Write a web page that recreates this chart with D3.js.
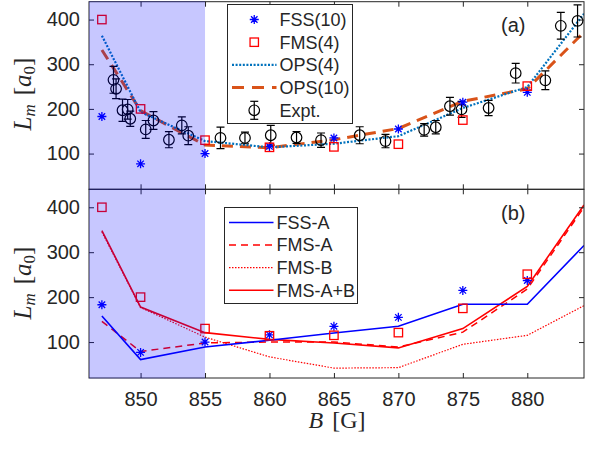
<!DOCTYPE html>
<html>
<head>
<meta charset="utf-8">
<script src="https://cdn.jsdelivr.net/npm/d3@7"></script>
<style>
  body { margin: 0; background: #fff; }
  svg { display: block; }
  text { font-family: "Liberation Sans", Arial, sans-serif; fill: #262626; }
  .serif { font-family: "Liberation Serif", "DejaVu Serif", serif; }
</style>
</head>
<body>
<svg id="chart" width="594" height="449"></svg>
<script>
// field values (G)
const fieldB = [847, 850, 855, 860, 865, 870, 875, 880]
const curveB = [847, 850, 855, 860, 865, 870, 875, 880, 884.4]

// panel (a)
const fss10 = [183, 77, 100, 116, 135, 155, 215, 237]
const fms4 = [400, 200, 130, 114, 115, 121, 175, 251]
const ops4 = [364, 193, 128, 114, 122, 139, 202, 249, 413]
const ops10 = [332, 196, 119, 113, 131, 156, 217, 245, 372]

const exptB = [847.9, 848.1, 848.6, 849.0, 849.2, 850.4, 851.0, 852.2, 853.2, 853.7, 856.2, 858.1, 860.1,
               862.1, 864.0, 867.0, 869.0, 872.0, 872.9, 874.0, 874.9, 877.0, 879.1, 881.4, 882.6, 883.9]
const exptL = [265, 245, 197, 199, 178, 154, 174, 131, 163, 140, 135, 135, 141,
               136, 130, 141, 128, 153, 159, 206, 199, 202, 280, 264, 386, 397]
const exptErr = [30, 22, 25, 22, 17, 20, 20, 18, 19, 20, 24, 13, 22,
                 13, 16, 19, 15, 14, 15, 20, 18, 17, 22, 21, 30, 36]

// panel (b)
const fssA = [158, 61, 89, 104, 120, 135, 184, 184, 315]
const fmsA = [146, 79, 98, 100, 100, 89, 122, 218, 400]
const fmsB = [345, 177, 111, 67, 42, 43, 95, 115, 181]
const fmsAB = [348, 178, 121, 106, 98, 87, 130, 224, 405]

const yTicks = [100, 200, 300, 400]
const xTicks = [850, 855, 860, 865, 870, 875, 880]
const shadeRange = [846, 855]

const svg = d3.select("#chart")
const x = d3.scaleLinear().domain([846, 884.4]).range([89, 584])
const yTop = d3.scaleLinear().domain([20, 440]).range([189.3, 1.7])
const yBot = d3.scaleLinear().domain([20, 440]).range([378, 189.3])

function star(s) {
  const r = s / 2, d = r * 0.72
  return `M${-r},0L${r},0M0,${-r}L0,${r}M${-d},${-d}L${d},${d}M${-d},${d}L${d},${-d}`
}

function pairs(xs, ys) { return xs.map((b, i) => [b, ys[i]]) }

function draw_frame(g, y, showXLabels) {
  let [y0, y1] = y.range()
  let axL = d3.axisLeft(y).tickValues(yTicks).tickSize(-5).tickPadding(9)
  let axR = d3.axisRight(y).tickValues(yTicks).tickSize(-5).tickFormat("")
  let axB = d3.axisBottom(x).tickValues(xTicks).tickSize(-5).tickPadding(14)
  let axT = d3.axisTop(x).tickValues(xTicks).tickSize(-5).tickFormat("")
  if (!showXLabels) axB.tickFormat("")
  g.append("g").attr("transform", `translate(89,0)`).call(axL)
  g.append("g").attr("transform", `translate(584,0)`).call(axR)
  g.append("g").attr("transform", `translate(0,${y0})`).call(axB)
  g.append("g").attr("transform", `translate(0,${y1})`).call(axT)
  g.selectAll(".domain").remove()
  g.selectAll(".tick line").attr("stroke", "#262626")
  g.selectAll(".tick text").attr("font-size", 20).attr("fill", "#262626")
    .style("font-family", '"Liberation Sans", Arial, sans-serif')
  g.append("rect")
    .attr("x", 89).attr("y", y1).attr("width", 584 - 89).attr("height", y0 - y1)
    .attr("fill", "none").attr("stroke", "#262626").attr("stroke-width", 1)
}

function draw_markers(g, y) {
  g.append("g").selectAll("path")
    .data(pairs(fieldB, fss10)).enter()
    .append("path")
    .attr("transform", d => `translate(${x(d[0])},${y(d[1])})`)
    .attr("d", star(9))
    .attr("stroke", "#0000ff").attr("stroke-width", 1.3).attr("fill", "none")
  g.append("g").selectAll("rect")
    .data(pairs(fieldB, fms4)).enter()
    .append("rect")
    .attr("x", d => x(d[0]) - 4.2).attr("y", d => y(d[1]) - 4.2)
    .attr("width", 8.4).attr("height", 8.4)
    .attr("fill", "none").attr("stroke", "#ff0000").attr("stroke-width", 1.3)
}

function draw_line(g, y, xs, ys, color, width, dash) {
  g.append("path")
    .datum(pairs(xs, ys))
    .attr("d", d3.line().x(d => x(d[0])).y(d => y(d[1])))
    .attr("fill", "none").attr("stroke", color).attr("stroke-width", width)
    .attr("stroke-dasharray", dash || null)
    .attr("clip-path", y === yTop ? "url(#clipTop)" : "url(#clipBot)")
}

function draw_shade(g, y) {
  let [y0, y1] = y.range()
  g.append("rect")
    .attr("x", x(shadeRange[0])).attr("y", y1 - 0.5)
    .attr("width", x(shadeRange[1]) - x(shadeRange[0])).attr("height", y0 - y1 + 1)
    .attr("fill", "#0000ff").attr("fill-opacity", 0.22)
}

function legend(g, x0, y0, w, h, rows, rowY, spacing) {
  g.append("rect").attr("x", x0).attr("y", y0).attr("width", w).attr("height", h)
    .attr("fill", "#fff").attr("stroke", "#262626").attr("stroke-width", 1)
  rows.forEach((r, i) => {
    let cy = rowY + i * spacing
    let sx0 = x0 + 4.5, sx1 = x0 + 49
    if (r.line) {
      g.append("line").attr("x1", sx0).attr("x2", sx1).attr("y1", cy).attr("y2", cy)
        .attr("stroke", r.color).attr("stroke-width", r.width).attr("stroke-dasharray", r.dash || null)
    }
    let mx = (sx0 + sx1) / 2
    if (r.marker === "star") {
      g.append("path").attr("transform", `translate(${mx},${cy})`).attr("d", star(9))
        .attr("stroke", "#0000ff").attr("stroke-width", 1.3).attr("fill", "none")
    } else if (r.marker === "square") {
      g.append("rect").attr("x", mx - 4.2).attr("y", cy - 4.2).attr("width", 8.4).attr("height", 8.4)
        .attr("fill", "none").attr("stroke", "#ff0000").attr("stroke-width", 1.3)
    } else if (r.marker === "err") {
      g.append("line").attr("x1", mx).attr("x2", mx).attr("y1", cy - 9).attr("y2", cy + 9).attr("stroke", "#000").attr("stroke-width", 1.2)
      g.append("line").attr("x1", mx - 4).attr("x2", mx + 4).attr("y1", cy - 9).attr("y2", cy - 9).attr("stroke", "#000").attr("stroke-width", 1.2)
      g.append("line").attr("x1", mx - 4).attr("x2", mx + 4).attr("y1", cy + 9).attr("y2", cy + 9).attr("stroke", "#000").attr("stroke-width", 1.2)
      g.append("circle").attr("cx", mx).attr("cy", cy).attr("r", 5.3).attr("fill", "none").attr("stroke", "#000").attr("stroke-width", 1.2)
    }
    g.append("text").attr("x", sx1 + 3).attr("y", cy).attr("dy", "0.35em")
      .attr("font-size", 18).text(r.label)
  })
}

// clip paths
let defs = svg.append("defs")
defs.append("clipPath").attr("id", "clipTop").append("rect")
  .attr("x", 89).attr("y", yTop.range()[1]).attr("width", 495).attr("height", yTop.range()[0] - yTop.range()[1])
defs.append("clipPath").attr("id", "clipBot").append("rect")
  .attr("x", 89).attr("y", yBot.range()[1]).attr("width", 495).attr("height", yBot.range()[0] - yBot.range()[1])

// ---- panel (a)
let gA = svg.append("g")
draw_line(gA, yTop, curveB, ops10, "#D95319", 3, "11,7")
draw_line(gA, yTop, curveB, ops4, "#0072BD", 2.2, "2,1.6")
let ex = gA.append("g").attr("stroke", "#000").attr("stroke-width", 1.2).attr("fill", "none")
let exData = exptB.map((b, i) => ({ b: b, l: exptL[i], e: exptErr[i] }))
ex.selectAll(".bar").data(exData).enter().append("path")
  .attr("d", d => {
    let cx = x(d.b), t = yTop(d.l + d.e), bt = yTop(d.l - d.e)
    return `M${cx},${t}L${cx},${bt}M${cx - 4},${t}L${cx + 4},${t}M${cx - 4},${bt}L${cx + 4},${bt}`
  })
ex.selectAll("circle").data(exData).enter().append("circle")
  .attr("cx", d => x(d.b)).attr("cy", d => yTop(d.l)).attr("r", 5.3)
draw_markers(gA, yTop)
draw_frame(gA, yTop, false)
draw_shade(gA, yTop)
legend(gA, 227.5, 4.5, 125, 119, [
  { label: "FSS(10)", marker: "star" },
  { label: "FMS(4)", marker: "square" },
  { label: "OPS(4)", line: true, color: "#0072BD", width: 2.2, dash: "2,1.6" },
  { label: "OPS(10)", line: true, color: "#D95319", width: 3, dash: "12,8" },
  { label: "Expt.", marker: "err" }
], 19.5, 22.7)
gA.append("text").attr("x", 501).attr("y", 32).attr("font-size", 20).text("(a)")

// ---- panel (b)
let gB = svg.append("g")
draw_line(gB, yBot, curveB, fmsB, "#ff0000", 1.2, "1.5,1.5")
draw_line(gB, yBot, curveB, fmsA, "#ff0000", 1.5, "7,5")
draw_line(gB, yBot, curveB, fmsAB, "#ff0000", 1.6)
draw_line(gB, yBot, curveB, fssA, "#0000ff", 1.6)
draw_markers(gB, yBot)
draw_frame(gB, yBot, true)
draw_shade(gB, yBot)
legend(gB, 224.5, 207.5, 133, 96, [
  { label: "FSS-A", line: true, color: "#0000ff", width: 1.6 },
  { label: "FMS-A", line: true, color: "#ff0000", width: 1.5, dash: "7,5" },
  { label: "FMS-B", line: true, color: "#ff0000", width: 1.2, dash: "1.5,1.5" },
  { label: "FMS-A+B", line: true, color: "#ff0000", width: 1.6 }
], 222.5, 22.6)
gB.append("text").attr("x", 501).attr("y", 220).attr("font-size", 20).text("(b)")

// ---- axis titles
function ylabel(cy) {
  let t = svg.append("text").attr("class", "serif")
    .attr("transform", `translate(31,${cy}) rotate(-90)`)
    .attr("text-anchor", "middle").attr("font-size", 25)
  t.append("tspan").attr("font-style", "italic").text("L")
  t.append("tspan").attr("font-style", "italic").attr("font-size", 17).attr("dy", 4).text("m")
  t.append("tspan").attr("dy", -4).attr("dx", 9).text("[")
  t.append("tspan").attr("font-style", "italic").text("a")
  t.append("tspan").attr("font-size", 17).attr("dy", 4).text("0")
  t.append("tspan").attr("dy", -4).text("]")
}
ylabel(94)
ylabel(283)

let xl = svg.append("text").attr("class", "serif")
  .attr("x", 337).attr("y", 428).attr("text-anchor", "middle").attr("font-size", 24)
xl.append("tspan").attr("font-style", "italic").text("B")
xl.append("tspan").attr("dx", 9).text("[G]")
</script>
</body>
</html>
